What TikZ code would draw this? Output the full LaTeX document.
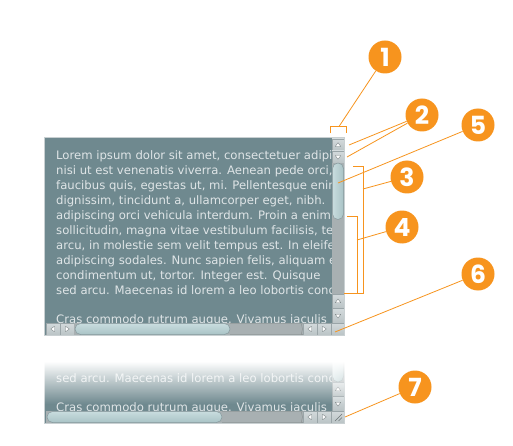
\documentclass[tikz,border=0pt]{standalone}
\usepackage{fontspec}
\setmainfont{DejaVu Sans}
\newfontfamily\numfont{Poppins}
\usetikzlibrary{fadings}
\definecolor{panel}{HTML}{6F898F}
\definecolor{framec}{HTML}{C9D0D2}
\definecolor{txt}{HTML}{DFE5E7}
\definecolor{btnhi}{HTML}{D3DADC}
\definecolor{btnlo}{HTML}{BAC3C5}
\definecolor{btnedge}{HTML}{9AA5A8}
\definecolor{track}{HTML}{A8B0B2}
\definecolor{thumbhi}{HTML}{C8DCDE}
\definecolor{thumblo}{HTML}{A9C3C6}
\definecolor{thumbedge}{HTML}{869A9E}
\definecolor{orng}{HTML}{F7941E}
\tikzfading[name=whitetop, top color=transparent!0, bottom color=transparent!100]
\tikzset{
  lorem/.style={anchor=base west, inner sep=0pt, text=txt, font=\fontsize{11.65}{13}\selectfont},
  callout/.style={circle, fill=orng, minimum size=33pt, inner sep=0pt, text=white,
    font=\numfont\bfseries\fontsize{25}{25}\selectfont},
  lead/.style={draw=orng, line width=0.8pt},
  btn/.style={top color=btnhi, bottom color=btnlo, draw=btnedge, line width=0.5pt},
  tri/.style={fill=white, draw=btnedge!80!black, line width=0.4pt, line join=round},
}
% button: x1 y1 x2 y2 angle
\newcommand\sbbtn[5]{%
  \path[btn] (#1,#2) rectangle (#3,#4);
  \path[tri, shift={({(#1+#3)/2},{(#2+#4)/2})}, rotate=#5]
     (0,-2.3) -- (2.8,1.5) -- (-2.8,1.5) -- cycle;}
\begin{document}
\begin{tikzpicture}[x=1pt,y=-1pt]
\useasboundingbox (0,0) rectangle (513,446);
\fill[white] (0,0) rectangle (513,446);

% ===== main panel =====
\fill[panel] (45,138) rectangle (344,335);
\begin{scope}
  \clip (46,139) rectangle (332,323);
  \node[lorem] (t1) at (56,160) {Lorem ipsum dolor sit amet, consectetuer adipiscing elit.};
  \node[lorem] (t2) at (56,174.9) {nisi ut est venenatis viverra. Aenean pede orci,};
  \node[lorem] (t3) at (56,189.8) {faucibus quis, egestas ut, mi. Pellentesque enim};
  \node[lorem] (t4) at (56,204.7) {dignissim, tincidunt a, ullamcorper eget, nibh.};
  \node[lorem] (t5) at (56,219.6) {adipiscing orci vehicula interdum. Proin a enim};
  \node[lorem] (t6) at (56,234.5) {sollicitudin, magna vitae vestibulum facilisis, tellus};
  \node[lorem] (t7) at (56,249.4) {arcu, in molestie sem velit tempus est. In eleifend};
  \node[lorem] (t8) at (56,264.3) {adipiscing sodales. Nunc sapien felis, aliquam et};
  \node[lorem] (t9) at (56,279.2) {condimentum ut, tortor. Integer est. Quisque};
  \node[lorem] (t10) at (56,294.1) {sed arcu. Maecenas id lorem a leo lobortis condimentum};
  \node[lorem] (t11) at (56,323.9) {Cras commodo rutrum augue. Vivamus iaculis};
\end{scope}
% vertical scrollbar
\sbbtn{332}{139}{344}{151}{0}
\sbbtn{332}{151}{344}{163}{180}
\fill[track] (332,163) rectangle (344,294);
\draw[left color=thumbhi, right color=thumblo, draw=thumbedge, line width=0.5pt, rounded corners=5.5pt]
  (332.5,163) rectangle (343.5,219.5);
\sbbtn{332}{294}{344}{308.5}{0}
\sbbtn{332}{308.5}{344}{323}{180}
% horizontal scrollbar
\sbbtn{46}{323}{60}{335}{90}
\sbbtn{60}{323}{74}{335}{-90}
\fill[track] (74,323) rectangle (303,335);
\draw[top color=thumbhi, bottom color=thumblo, draw=thumbedge, line width=0.5pt, rounded corners=5.5pt]
  (75,323.5) rectangle (230,334.5);
\draw[track!85!black, line width=0.5pt, rounded corners=5.5pt] (230,323.5) -- (297,323.5) arc[start angle=90,end angle=-90,radius=5.5pt] -- (230,334.5);
\sbbtn{303}{323}{317}{335}{90}
\sbbtn{317}{323}{331}{335}{-90}
\path[btn] (331,323) rectangle (344,335);
\draw[framec, line width=1.4pt] (44.6,137.6) rectangle (344.4,335.4);

% ===== lower panel (resized view) =====
\begin{scope}
  \clip (38,352) rectangle (352,430);
  \fill[panel] (45,226) rectangle (344,423);
  \begin{scope}
    \clip (46,352) rectangle (332,411);
    \node[lorem] (u10) at (56,382.1) {sed arcu. Maecenas id lorem a leo lobortis condimentum};
    \node[lorem] (u11) at (56,411.9) {Cras commodo rutrum augue. Vivamus iaculis};
  \end{scope}
  \fill[track] (332,300) rectangle (344,382);
  \draw[left color=thumbhi, right color=thumblo, draw=thumbedge, line width=0.5pt, rounded corners=5.5pt]
    (332.5,300) rectangle (343.5,382);
  \sbbtn{332}{382}{344}{396.5}{0}
  \sbbtn{332}{396.5}{344}{411}{180}
  \fill[track] (46,411) rectangle (303,423);
  \draw[top color=thumbhi, bottom color=thumblo, draw=thumbedge, line width=0.5pt, rounded corners=5.5pt]
    (47,411.5) rectangle (222,422.5);
  \draw[track!85!black, line width=0.5pt, rounded corners=5.5pt] (222,411.5) -- (297,411.5) arc[start angle=90,end angle=-90,radius=5.5pt] -- (222,422.5);
  \sbbtn{303}{411}{317}{423}{90}
  \sbbtn{317}{411}{331}{423}{-90}
  \path[btn] (331,411) rectangle (344,423);
  \draw[btnedge!70!black, line width=0.6pt] (335,421) -- (342,414) (338.5,421) -- (342,417.5);
  \draw[framec, line width=1.4pt] (44.6,220) -- (44.6,423.4) -- (344.4,423.4) -- (344.4,220);
  \fill[white] (38,350) rectangle (352,362);
  \fill[white, path fading=whitetop] (38,361.5) rectangle (352,404);
\end{scope}

% ===== callouts =====
\node[callout] (c1) at (385,57) {1};
\node[callout] (c2) at (422,115) {2};
\node[callout] (c5) at (478,125) {5};
\node[callout] (c3) at (407,177) {3};
\node[callout] (c4) at (402,227) {4};
\node[callout] (c6) at (478,274) {6};
\node[callout] (c7) at (415,387) {7};

\coordinate (p1) at (339,126.5);
\coordinate (p2a) at (349,145);
\coordinate (p2b) at (347,157);
\coordinate (p5) at (338,183);
\coordinate (p3) at (363,189);
\coordinate (p4) at (357,240);
\coordinate (p6) at (335,332);
\coordinate (p7) at (345,417);

\draw[lead] (330,133.5) -- (330,126.5) -- (346,126.5) -- (346,133.5);
\draw[lead] (353,166) -- (363,166) -- (363,293) -- (344,293);
\draw[lead] (347,216) -- (357,216) -- (357,293);

\draw[lead] (c1) -- (p1);
\draw[lead] (c2) -- (p2a);
\draw[lead] (c2) -- (p2b);
\draw[lead] (c5) -- (p5);
\draw[lead] (c3) -- (p3);
\draw[lead] (c4) -- (p4);
\draw[lead] (c6) -- (p6);
\draw[lead] (c7) -- (p7);
\end{tikzpicture}
\end{document}
